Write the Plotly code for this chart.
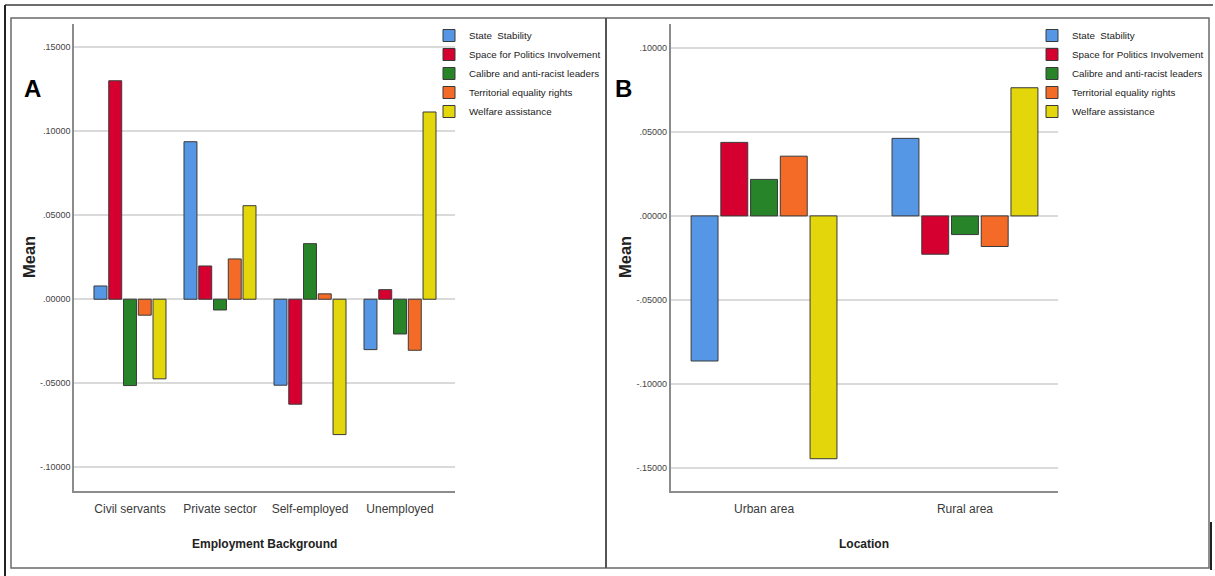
import plotly.graph_objects as go

# ---------------- data ----------------
series_names = ["State  Stability", "Space for Politics Involvement",
                "Calibre and anti-racist leaders", "Territorial equality rights",
                "Welfare assistance"]
series_colors = ["#5597E4", "#D5002F", "#288428", "#F36B26", "#E3D60B"]

employment_categories = ["Civil servants", "Private sector", "Self-employed", "Unemployed"]
employment_state_stability = [0.0079, 0.0938, -0.0512, -0.0300]
employment_space_politics = [0.1301, 0.0198, -0.0625, 0.0057]
employment_calibre_leaders = [-0.0514, -0.0064, 0.0331, -0.0207]
employment_territorial_rights = [-0.0095, 0.0240, 0.0032, -0.0304]
employment_welfare = [-0.0474, 0.0557, -0.0806, 0.1115]

location_categories = ["Urban area", "Rural area"]
location_state_stability = [-0.0863, 0.0461]
location_space_politics = [0.0437, -0.0228]
location_calibre_leaders = [0.0217, -0.0111]
location_territorial_rights = [0.0355, -0.0182]
location_welfare = [-0.1444, 0.0762]

ytick_vals_a = [-0.10, -0.05, 0.0, 0.05, 0.10, 0.15]
ytick_text_a = ["-.10000", "-.05000", ".00000", ".05000", ".10000", ".15000"]
ytick_vals_b = [-0.15, -0.10, -0.05, 0.0, 0.05, 0.10]
ytick_text_b = ["-.15000", "-.10000", "-.05000", ".00000", ".05000", ".10000"]

employment_series = [employment_state_stability, employment_space_politics,
                     employment_calibre_leaders, employment_territorial_rights,
                     employment_welfare]
location_series = [location_state_stability, location_space_politics,
                   location_calibre_leaders, location_territorial_rights,
                   location_welfare]

# ---------------- layout helpers ----------------
W, H = 1215, 576
def px(x):
    return x / W
def py(y):
    return 1 - y / H

SANS = "Liberation Sans, Arial, sans-serif"

fig = go.Figure()

# Panel A bars
step_a, width_a, start_a = 0.164, 0.144, -0.40
for i, (name, vals) in enumerate(zip(series_names, employment_series)):
    fig.add_trace(go.Bar(
        x=employment_categories, y=vals, name=name,
        marker=dict(color=series_colors[i], line=dict(color="#3a3a3a", width=1)),
        width=width_a, offset=start_a + i * step_a,
        xaxis="x", yaxis="y", legend="legend", hoverinfo="x+y+name"))

# Panel B bars
step_b, width_b, start_b = 0.148, 0.134, -0.363
for i, (name, vals) in enumerate(zip(series_names, location_series)):
    fig.add_trace(go.Bar(
        x=location_categories, y=vals, name=name,
        marker=dict(color=series_colors[i], line=dict(color="#3a3a3a", width=1)),
        width=width_b, offset=start_b + i * step_b,
        xaxis="x2", yaxis="y2", legend="legend2", hoverinfo="x+y+name"))

axis_common = dict(showline=True, linecolor="#8c8c8c", linewidth=1.5,
                   ticks="", fixedrange=True)
xtickfont = dict(size=12, family=SANS, color="#3a3a3a")
ytickfont = dict(size=9, family=SANS, color="#444444")
legfont = dict(size=9.8, family=SANS, color="#222222")

fig.update_layout(
    width=W, height=H,
    margin=dict(l=0, r=0, t=0, b=0),
    paper_bgcolor="white", plot_bgcolor="white",
    barmode="overlay",
    font=dict(family=SANS, color="#333333"),
    xaxis=dict(domain=[px(74), px(455)], anchor="y", type="category",
               range=[-0.622, 3.611], showgrid=False, ticklabelstandoff=6,
               tickfont=xtickfont, **axis_common),
    yaxis=dict(domain=[py(490.5), py(24)], anchor="x",
               range=[-0.1139, 0.1639], tickvals=ytick_vals_a, ticktext=ytick_text_a,
               showgrid=True, gridcolor="#dadada", gridwidth=2, zeroline=False,
               tickfont=ytickfont, **axis_common),
    xaxis2=dict(domain=[px(670.6), px(1058)], anchor="y2", type="category",
                range=[-0.465, 1.463], showgrid=False, ticklabelstandoff=6,
                tickfont=xtickfont, **axis_common),
    yaxis2=dict(domain=[py(490.5), py(24)], anchor="x2",
                range=[-0.1633, 0.1141], tickvals=ytick_vals_b, ticktext=ytick_text_b,
                showgrid=True, gridcolor="#dadada", gridwidth=2, zeroline=False,
                tickfont=ytickfont, **axis_common),
    legend=dict(x=px(429), y=py(21), xanchor="left", yanchor="top",
                bgcolor="rgba(0,0,0,0)", borderwidth=0, itemwidth=30,
                font=legfont, itemclick=False, itemdoubleclick=False),
    legend2=dict(x=px(1032), y=py(21), xanchor="left", yanchor="top",
                 bgcolor="rgba(0,0,0,0)", borderwidth=0, itemwidth=30,
                 font=legfont, itemclick=False, itemdoubleclick=False),
    showlegend=True,
)

# axis titles and panel letters
annos = [
    dict(text="<b>Employment Background</b>", x=px(264.5), y=py(544),
         font=dict(size=12, family=SANS, color="#222222")),
    dict(text="<b>Location</b>", x=px(864), y=py(544),
         font=dict(size=12, family=SANS, color="#222222")),
    dict(text="<b>Mean</b>", x=px(29), y=py(257), textangle=-90,
         font=dict(size=16.5, family=SANS, color="#222222")),
    dict(text="<b>Mean</b>", x=px(625), y=py(257), textangle=-90,
         font=dict(size=16.5, family=SANS, color="#222222")),
    dict(text="<b>A</b>", x=px(32), y=py(88),
         font=dict(size=24, family=SANS, color="#000000")),
    dict(text="<b>B</b>", x=px(623), y=py(88),
         font=dict(size=24, family=SANS, color="#000000")),
]
for a in annos:
    fig.add_annotation(xref="paper", yref="paper", showarrow=False,
                       xanchor="center", yanchor="middle", **a)

# frames
def line(x0, y0, x1, y1, color, width):
    fig.add_shape(type="line", xref="paper", yref="paper",
                  x0=px(x0), y0=py(y0), x1=px(x1), y1=py(y1),
                  line=dict(color=color, width=width))

line(5, 5, 1213, 5, "#3c3c3c", 1.5)
line(5, 5, 5, 576, "#222222", 2)
line(1211, 522, 1211, 570, "#222222", 2)
fig.add_shape(type="rect", xref="paper", yref="paper",
              x0=px(11), y0=py(568), x1=px(1209), y1=py(18),
              line=dict(color="#6a6a6a", width=1.5))
line(606, 18, 606, 568, "#555555", 2)

fig.write_html("out.html", config={"displayModeBar": False},
               post_script="document.body.style.margin='0';")
